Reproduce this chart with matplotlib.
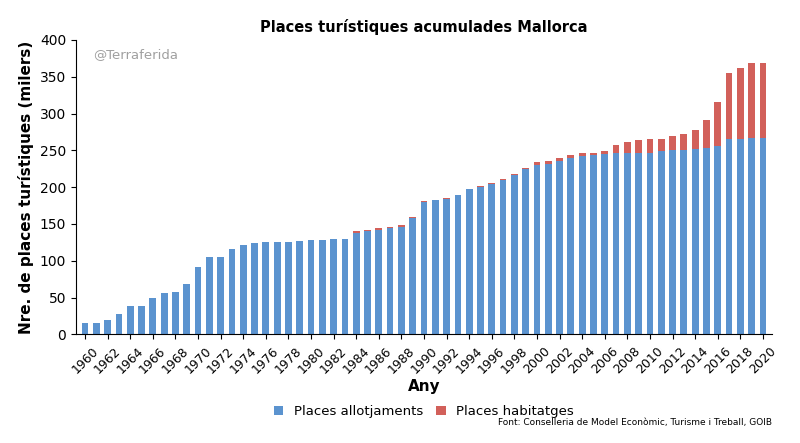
import matplotlib.pyplot as plt
import numpy as np

years = list(range(1960, 2021))
allotjaments = [15, 16, 20, 28, 38, 39, 49, 56, 57, 68,
                92, 105, 105, 116, 122, 124, 125, 125, 126, 127,
                128, 128, 130, 130, 138, 140, 142, 144, 146, 158,
                180, 182, 184, 189, 197, 200, 204, 210, 217, 225,
                230, 232, 236, 240, 242, 244, 245, 246, 247, 247,
                247, 249, 250, 251, 252, 253, 256, 265, 266, 267, 267]
habitatges = [0]*24 + [2, 2, 2, 2, 2, 2,
              1, 1, 1, 1, 1, 1, 1, 1, 1, 1,
              4, 4, 4, 3, 4, 3, 4, 11, 14, 17,
              18, 17, 19, 21, 26, 38, 59, 90, 96, 101, 102]

fig = plt.figure(figsize=(8, 4.43), dpi=100)
ax = fig.add_axes([0.095, 0.245, 0.87, 0.665])
x = np.arange(len(years))
ax.bar(x, allotjaments, width=0.6, color='#5b93cf', label='Places allotjaments')
ax.bar(x, habitatges, width=0.6, bottom=allotjaments, color='#d2605a', label='Places habitatges')

ax.set_ylim(0, 400)
ax.set_xlim(-0.8, len(years) - 0.2)
ax.set_yticks(range(0, 401, 50))
ax.set_xticks(x[::2])
ax.set_xticklabels([str(y) for y in years[::2]], rotation=45, fontsize=9)
ax.tick_params(axis='y', labelsize=10)
for s in ['top', 'right']:
    ax.spines[s].set_visible(False)
ax.set_ylabel('Nre. de places turístiques (milers)', fontsize=11, fontweight='bold')
ax.set_xlabel('Any', fontsize=11, fontweight='bold', labelpad=2)
ax.set_title('Places turístiques acumulades Mallorca', fontsize=10.5, fontweight='bold')
ax.text(0.025, 0.94, '@Terraferida', transform=ax.transAxes, color='#a0a0a0', fontsize=9.5)
ax.legend(loc='upper center', bbox_to_anchor=(0.5, -0.2), ncol=2, frameon=False,
          fontsize=9.5, handlelength=0.7, handleheight=0.7, columnspacing=1.0)
fig.text(0.965, 0.04, 'Font: Conselleria de Model Econòmic, Turisme i Treball, GOIB',
         ha='right', fontsize=6.5)
fig.savefig('out.png', dpi=100)
